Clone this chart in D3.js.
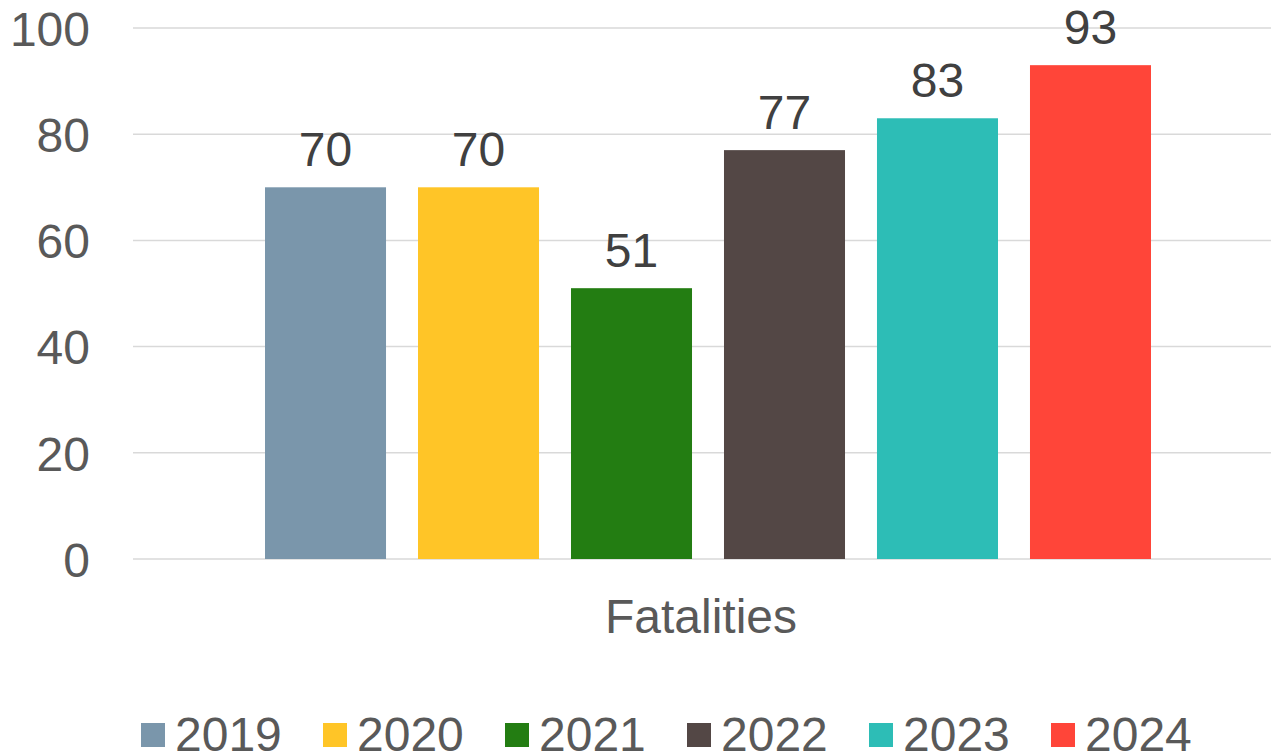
<!DOCTYPE html>
<html>
<head>
<meta charset="utf-8">
<script src="https://cdn.jsdelivr.net/npm/d3@7"></script>
<style>
  body { margin: 0; background: #fff; }
  text { font-family: "Liberation Sans", Arial, sans-serif; fill: #595959; }
</style>
</head>
<body>
<div id="chart"></div>
<script>
// data
const categories = ['Fatalities']
const years = ['2019', '2020', '2021', '2022', '2023', '2024']
const values = [70, 70, 51, 77, 83, 93]
const colors = ['#7a96ab', '#ffc527', '#237d12', '#534745', '#2dbdb6', '#ff4539']
const yTicks = [0, 20, 40, 60, 80, 100]

const rows = years.map((y, i) => ({ year: y, value: values[i], color: colors[i] }))

// dimensions
let dimensions = {
    width: 1271,
    height: 755,
    margin: { top: 28, right: 0, bottom: 196, left: 133 },
}
dimensions.innerWidth = 1150
dimensions.innerHeight = dimensions.height - dimensions.margin.top - dimensions.margin.bottom

const outer = d3.select('#chart')
    .append('svg')
    .attr('width', dimensions.width)
    .attr('height', dimensions.height)

const inner = outer.append('g')
    .attr('transform', `translate(${dimensions.margin.left}, ${dimensions.margin.top})`)

// scales
const x0 = d3.scaleBand()
    .domain(categories)
    .range([0, dimensions.innerWidth])

const x1 = d3.scaleBand()
    .domain(years)
    .range([132, 1018])
    .paddingInner(0.209)
    .paddingOuter(0)

const yScale = d3.scaleLinear()
    .domain([0, 100])
    .range([dimensions.innerHeight, 0])

// gridlines
inner.append('g')
    .selectAll('line')
    .data(yTicks)
    .join('line')
    .attr('x1', 0)
    .attr('x2', dimensions.innerWidth)
    .attr('y1', d => yScale(d))
    .attr('y2', d => yScale(d))
    .attr('stroke', '#d9d9d9')
    .attr('stroke-width', 1.5)

// y axis labels
const yAxis = d3.axisLeft(yScale).tickValues(yTicks).tickSize(0).tickPadding(43)
const yAxisGroup = inner.append('g').call(yAxis)
yAxisGroup.select('.domain').remove()
yAxisGroup.selectAll('text')
    .style('font-size', '48px')
    .style('font-family', '"Liberation Sans", Arial, sans-serif')
    .attr('fill', '#595959')
    .attr('dy', '0.36em')

// bars
const group = inner.append('g')
    .attr('transform', `translate(${x0(categories[0])}, 0)`)

group.selectAll('rect')
    .data(rows)
    .join('rect')
    .attr('x', d => x1(d.year))
    .attr('y', d => yScale(d.value))
    .attr('width', x1.bandwidth())
    .attr('height', d => yScale(0) - yScale(d.value))
    .attr('fill', d => d.color)

group.selectAll('.label')
    .data(rows)
    .join('text')
    .attr('class', 'label')
    .attr('x', d => x1(d.year) + x1.bandwidth() / 2)
    .attr('y', d => yScale(d.value) - 21)
    .attr('text-anchor', 'middle')
    .style('font-size', '48px')
    .style('fill', '#404040')
    .text(d => d.value)

// category label
inner.append('text')
    .attr('x', 568)
    .attr('y', dimensions.innerHeight + 74)
    .attr('text-anchor', 'middle')
    .style('font-size', '48px')
    .text(categories[0])

// legend
const legend = outer.append('g')
    .attr('transform', 'translate(141, 723)')

const item = legend.selectAll('g')
    .data(rows)
    .join('g')
    .attr('transform', (d, i) => `translate(${i * 182}, 0)`)

item.append('rect')
    .attr('width', 24)
    .attr('height', 24)
    .attr('fill', d => d.color)

item.append('text')
    .attr('x', 34)
    .attr('y', 28)
    .style('font-size', '48px')
    .text(d => d.year)
</script>
</body>
</html>
